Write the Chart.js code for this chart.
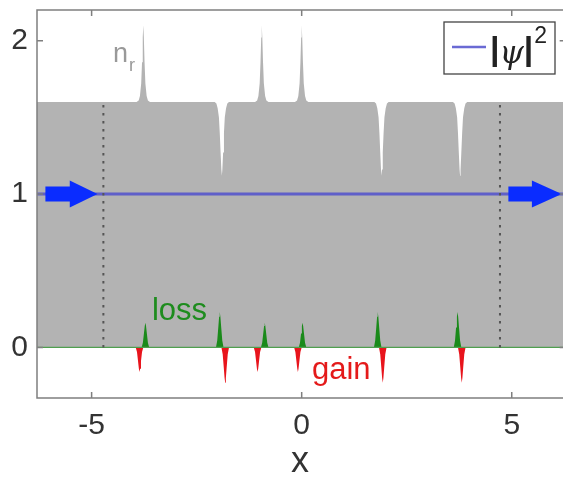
<!DOCTYPE html>
<html>
<head>
<meta charset="utf-8">
<script src="https://cdn.jsdelivr.net/npm/chart.js@4.4.1/dist/chart.umd.min.js"></script>
<style>
  html, body { margin: 0; padding: 0; background: #fff; }
  canvas { display: block; }
</style>
</head>
<body>
<canvas id="chart" width="563" height="480"></canvas>
<script>
// tick positions
var xTickValues = [-5, 0, 5];
var yTickValues = [0, 1, 2];

// real part of the index, n_r(x): flat at 1.6 with narrow peaks and dips
var nrPoints = [
	[-6.4, 1.60],
	[-3.93, 1.60], [-3.88, 1.61], [-3.85, 1.64], [-3.82, 1.72], [-3.80, 1.86], [-3.783, 2.02], [-3.77, 2.10],
	[-3.757, 2.02], [-3.74, 1.86], [-3.72, 1.72], [-3.69, 1.64], [-3.66, 1.61], [-3.61, 1.60],
	[-2.07, 1.60], [-2.03, 1.59], [-2.00, 1.56], [-1.97, 1.50], [-1.95, 1.40], [-1.93, 1.27], [-1.912, 1.16], [-1.90, 1.12],
	[-1.888, 1.16], [-1.87, 1.27], [-1.85, 1.40], [-1.83, 1.50], [-1.80, 1.56], [-1.77, 1.59], [-1.73, 1.60],
	[-1.11, 1.60], [-1.06, 1.61], [-1.03, 1.64], [-1.00, 1.72], [-0.98, 1.86], [-0.963, 2.02], [-0.95, 2.10],
	[-0.937, 2.02], [-0.92, 1.86], [-0.90, 1.72], [-0.87, 1.64], [-0.84, 1.61], [-0.79, 1.60],
	[-0.16, 1.60], [-0.11, 1.61], [-0.08, 1.64], [-0.05, 1.72], [-0.03, 1.86], [-0.013, 2.02], [0, 2.10],
	[0.013, 2.02], [0.03, 1.86], [0.05, 1.72], [0.08, 1.64], [0.11, 1.61], [0.16, 1.60],
	[1.73, 1.60], [1.77, 1.59], [1.80, 1.56], [1.83, 1.50], [1.85, 1.40], [1.87, 1.27], [1.888, 1.16], [1.90, 1.12],
	[1.912, 1.16], [1.93, 1.27], [1.95, 1.40], [1.97, 1.50], [2.00, 1.56], [2.03, 1.59], [2.07, 1.60],
	[3.60, 1.60], [3.64, 1.59], [3.67, 1.56], [3.70, 1.50], [3.72, 1.40], [3.74, 1.27], [3.758, 1.16], [3.77, 1.12],
	[3.782, 1.16], [3.80, 1.27], [3.82, 1.40], [3.84, 1.50], [3.87, 1.56], [3.90, 1.59], [3.94, 1.60],
	[6.4, 1.60]
];

// loss (positive imaginary part)
var lossPoints = [
	[-6.4, 0],
	[-3.81, 0], [-3.78, 0.03], [-3.755, 0.09], [-3.735, 0.14], [-3.72, 0.16], [-3.705, 0.14], [-3.685, 0.09], [-3.66, 0.03], [-3.63, 0],
	[-2.04, 0], [-2.01, 0.045], [-1.985, 0.13], [-1.965, 0.20], [-1.95, 0.23], [-1.935, 0.20], [-1.915, 0.13], [-1.89, 0.045], [-1.86, 0],
	[-0.97, 0], [-0.94, 0.03], [-0.915, 0.09], [-0.895, 0.14], [-0.88, 0.16], [-0.865, 0.14], [-0.845, 0.09], [-0.82, 0.03], [-0.79, 0],
	[-0.07, 0], [-0.04, 0.03], [-0.015, 0.09], [0.005, 0.14], [0.02, 0.16], [0.035, 0.14], [0.055, 0.09], [0.08, 0.03], [0.11, 0],
	[1.72, 0], [1.75, 0.045], [1.775, 0.13], [1.795, 0.20], [1.81, 0.23], [1.825, 0.20], [1.845, 0.13], [1.87, 0.045], [1.90, 0],
	[3.62, 0], [3.65, 0.045], [3.675, 0.13], [3.695, 0.20], [3.71, 0.23], [3.725, 0.20], [3.745, 0.13], [3.77, 0.045], [3.80, 0],
	[6.4, 0]
];

// gain (negative imaginary part)
var gainPoints = [
	[-6.4, 0],
	[-3.95, 0], [-3.92, -0.03], [-3.895, -0.09], [-3.875, -0.14], [-3.86, -0.16], [-3.845, -0.14], [-3.825, -0.09], [-3.80, -0.03], [-3.77, 0],
	[-1.91, 0], [-1.88, -0.045], [-1.855, -0.13], [-1.835, -0.20], [-1.82, -0.23], [-1.805, -0.20], [-1.785, -0.13], [-1.76, -0.045], [-1.73, 0],
	[-1.14, 0], [-1.11, -0.03], [-1.085, -0.09], [-1.065, -0.14], [-1.05, -0.16], [-1.035, -0.14], [-1.015, -0.09], [-0.99, -0.03], [-0.96, 0],
	[-0.18, 0], [-0.15, -0.03], [-0.125, -0.09], [-0.105, -0.14], [-0.09, -0.16], [-0.075, -0.14], [-0.055, -0.09], [-0.03, -0.03], [0.00, 0],
	[1.84, 0], [1.87, -0.045], [1.895, -0.13], [1.915, -0.20], [1.93, -0.23], [1.945, -0.20], [1.965, -0.13], [1.99, -0.045], [2.02, 0],
	[3.72, 0], [3.75, -0.045], [3.775, -0.13], [3.795, -0.20], [3.81, -0.23], [3.825, -0.20], [3.845, -0.13], [3.87, -0.045], [3.90, 0],
	[6.4, 0]
];

// |psi|^2 is flat at 1
var psiPoints = [[-6.4, 1], [6.4, 1]];
var zeroPoints = [[-6.4, 0], [6.4, 0]];

// dotted markers
var dottedLeft = [[-4.72, 0], [-4.72, 1.6]];
var dottedRight = [[4.72, 0], [4.72, 1.6]];

// incoming / outgoing arrows (data x), both at y = 1
var arrows = [
	{ from: -6.1, neck: -5.52, tip: -4.86, y: 1 },
	{ from: 4.92, neck: 5.48, tip: 6.19, y: 1 }
];

// annotations (data coords of the left baseline)
var nrLabel = { text: 'n', sub: 'r', x: -4.49, y: 1.86 };
var lossLabel = { text: 'loss', x: -3.565, y: 0.179 };
var gainLabel = { text: 'gain', x: 0.245, y: -0.206 };

var xLimit = 6.2832; // right edge of the axes box (just off the picture)

var FONT = '"Liberation Sans", Arial, Helvetica, sans-serif';
var PSI_COLOR = 'rgba(80, 80, 205, 0.85)';

function toXY(pairs) {
	return pairs.map(function(p) { return { x: p[0], y: p[1] }; });
}

function lineSet(points, color, width, order, extra) {
	var ds = {
		data: toXY(points),
		borderColor: color,
		borderWidth: width,
		pointRadius: 0,
		tension: 0,
		fill: false,
		order: order
	};
	for (var k in extra) ds[k] = extra[k];
	return ds;
}

// draws arrows, labels, the box and the legend on top of the datasets
var overlayPlugin = {
	id: 'overlay',
	afterDatasetsDraw: function(chart) {
		var ctx = chart.ctx;
		var xs = chart.scales.x;
		var ys = chart.scales.y;
		var area = chart.chartArea;
		ctx.save();

		// blue arrows
		ctx.fillStyle = '#0a2cff';
		arrows.forEach(function(a) {
			var x0 = xs.getPixelForValue(a.from);
			var x1 = xs.getPixelForValue(a.neck);
			var x2 = xs.getPixelForValue(a.tip);
			var y = ys.getPixelForValue(a.y);
			ctx.beginPath();
			ctx.moveTo(x0, y - 7.5);
			ctx.lineTo(x1, y - 7.5);
			ctx.lineTo(x1, y - 13.5);
			ctx.lineTo(x2, y);
			ctx.lineTo(x1, y + 13.5);
			ctx.lineTo(x1, y + 7.5);
			ctx.lineTo(x0, y + 7.5);
			ctx.closePath();
			ctx.fill();
		});

		// text annotations
		ctx.textBaseline = 'alphabetic';
		ctx.textAlign = 'left';
		ctx.fillStyle = '#999';
		ctx.font = '27px ' + FONT;
		var nx = xs.getPixelForValue(nrLabel.x);
		var ny = ys.getPixelForValue(nrLabel.y);
		ctx.fillText(nrLabel.text, nx, ny);
		var nw = ctx.measureText(nrLabel.text).width;
		ctx.font = '18px ' + FONT;
		ctx.fillText(nrLabel.sub, nx + nw + 1, ny + 9);

		ctx.font = '31px ' + FONT;
		ctx.fillStyle = '#1e8c1e';
		ctx.fillText(lossLabel.text, xs.getPixelForValue(lossLabel.x), ys.getPixelForValue(lossLabel.y));
		ctx.fillStyle = '#e41a1a';
		ctx.fillText(gainLabel.text, xs.getPixelForValue(gainLabel.x), ys.getPixelForValue(gainLabel.y));

		// axes box with inward ticks
		var left = area.left, top = area.top, bottom = area.bottom;
		var right = xs.getPixelForValue(xLimit);
		ctx.strokeStyle = '#7f7f7f';
		ctx.lineWidth = 1.5;
		ctx.beginPath();
		ctx.moveTo(right, top);
		ctx.lineTo(left, top);
		ctx.lineTo(left, bottom);
		ctx.lineTo(right, bottom);
		ctx.lineTo(right, top);
		xTickValues.forEach(function(v) {
			var px = xs.getPixelForValue(v);
			ctx.moveTo(px, bottom);
			ctx.lineTo(px, bottom - 6);
			ctx.moveTo(px, top);
			ctx.lineTo(px, top + 6);
		});
		yTickValues.forEach(function(v) {
			var py = ys.getPixelForValue(v);
			ctx.moveTo(left, py);
			ctx.lineTo(left + 6, py);
			ctx.moveTo(right, py);
			ctx.lineTo(right - 6, py);
		});
		ctx.stroke();

		// legend box
		var bx = 444, by = 22, bw = 111, bh = 52;
		ctx.fillStyle = '#fff';
		ctx.fillRect(bx, by, bw, bh);
		ctx.strokeStyle = '#444';
		ctx.lineWidth = 1.3;
		ctx.strokeRect(bx, by, bw, bh);
		ctx.strokeStyle = PSI_COLOR;
		ctx.lineWidth = 2.5;
		ctx.beginPath();
		ctx.moveTo(bx + 8, by + 25);
		ctx.lineTo(bx + 42, by + 25);
		ctx.stroke();

		ctx.fillStyle = '#222';
		var tx = bx + 46;
		var base = by + 38;
		ctx.font = 'bold 34px ' + FONT;
		ctx.fillText('|', tx, base);
		tx += ctx.measureText('|').width;
		ctx.font = 'italic 31px "DejaVu Serif", serif';
		ctx.fillText('\u03c8', tx, base + 3);
		tx += ctx.measureText('\u03c8').width;
		ctx.font = 'bold 34px ' + FONT;
		ctx.fillText('|', tx, base);
		tx += ctx.measureText('|').width + 1;
		ctx.font = '23px ' + FONT;
		ctx.fillText('2', tx, by + 21);

		ctx.restore();
	}
};

var ctx = document.getElementById('chart').getContext('2d');
var chart = new Chart(ctx, {
	type: 'line',
	data: {
		datasets: [
			lineSet(dottedLeft, '#555', 2, 1, { borderDash: [2.5, 5.5] }),
			lineSet(dottedRight, '#555', 2, 1, { borderDash: [2.5, 5.5] }),
			lineSet(zeroPoints, '#4f9f4f', 1.3, 2),
			lineSet(lossPoints, '#1a8a1a', 0, 3, { fill: 'origin', backgroundColor: '#1a8a1a' }),
			lineSet(gainPoints, '#e8141c', 0, 3, { fill: 'origin', backgroundColor: '#e8141c' }),
			lineSet(psiPoints, PSI_COLOR, 3, 4),
			lineSet(nrPoints, '#b3b3b3', 0, 10, { fill: 'origin', backgroundColor: '#b3b3b3' })
		]
	},
	options: {
		responsive: false,
		animation: false,
		layout: { padding: { top: 10, left: 0, right: 0, bottom: 0 } },
		plugins: {
			legend: { display: false },
			tooltip: { enabled: false }
		},
		scales: {
			x: {
				type: 'linear',
				min: -6.3,
				max: 6.22,
				grid: { display: false, drawTicks: false },
				border: { display: false },
				ticks: { color: '#333', padding: 10, font: { family: FONT, size: 30 } },
				afterBuildTicks: function(scale) {
					scale.ticks = xTickValues.map(function(v) { return { value: v }; });
				},
				afterFit: function(scale) {
					scale.height = 82;
					scale.paddingLeft = 0;
					scale.paddingRight = 0;
				},
				title: {
					display: true,
					text: 'x',
					color: '#333',
					font: { family: FONT, size: 36, lineHeight: 1 },
					padding: { top: 0, bottom: 0 }
				}
			},
			y: {
				type: 'linear',
				min: -0.33,
				max: 2.2,
				grid: { display: false, drawTicks: false },
				border: { display: false },
				ticks: { color: '#333', padding: 9, font: { family: FONT, size: 30 } },
				afterBuildTicks: function(scale) {
					scale.ticks = yTickValues.map(function(v) { return { value: v }; });
				},
				afterFit: function(scale) {
					scale.width = 37;
					scale.paddingTop = 0;
					scale.paddingBottom = 0;
				}
			}
		}
	},
	plugins: [overlayPlugin]
});
</script>
</body>
</html>
